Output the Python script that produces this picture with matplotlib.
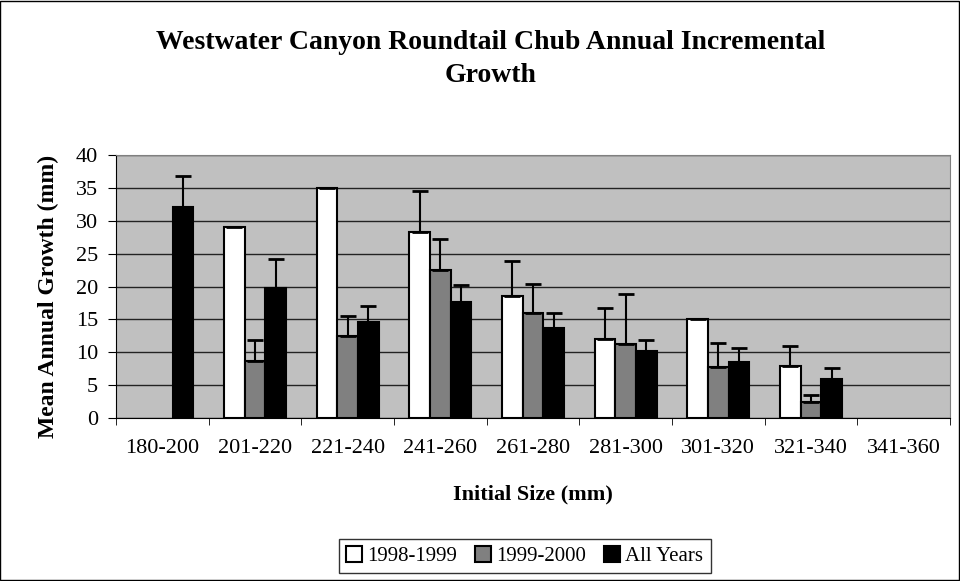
import matplotlib
matplotlib.use("Agg")
import matplotlib.pyplot as plt
import numpy as np

categories = ["180-200", "201-220", "221-240", "241-260", "261-280",
              "281-300", "301-320", "321-340", "341-360"]
series_names = ["1998-1999", "1999-2000", "All Years"]
v_9899 = [np.nan, 29.0, 35.0, 28.3, 18.6, 12.0, 15.0, 7.9, np.nan]
e_9899 = [np.nan, np.nan, np.nan, 6.2, 5.3, 4.7, np.nan, 3.0, np.nan]
v_9900 = [np.nan, 8.6, 12.4, 22.5, 16.0, 11.3, 7.8, 2.4, np.nan]
e_9900 = [np.nan, 3.3, 3.1, 4.7, 4.4, 7.5, 3.6, 1.1, np.nan]
v_all = [32.1, 19.7, 14.6, 17.7, 13.7, 10.2, 8.5, 5.9, np.nan]
e_all = [4.7, 4.5, 2.4, 2.5, 2.2, 1.6, 2.1, 1.7, np.nan]
colors = ["#FFFFFF", "#808080", "#000000"]

plt.rcParams['font.family'] = ['Liberation Serif', 'DejaVu Serif']

fig = plt.figure(figsize=(9.6, 5.81), dpi=100)
fig.patches.append(plt.Rectangle((0.0005, 0.001), 0.998, 0.997, transform=fig.transFigure,
                                 fill=False, edgecolor='black', linewidth=1))
W, H = 960, 581
left, right, top, bottom = 116, 950, 155, 418
ax = fig.add_axes([left / W, 1 - bottom / H, (right - left) / W, (bottom - top) / H])
ax.set_facecolor("#C0C0C0")

n = len(categories)
x = np.arange(n)
bw = 0.222
vals = [v_9899, v_9900, v_all]
errs = [e_9899, e_9900, e_all]
for i, (v, e, c, name) in enumerate(zip(vals, errs, colors, series_names)):
    pos = x + (i - 1) * bw
    ax.bar(pos, v, width=bw, color=c, edgecolor='black', linewidth=1.5, label=name, zorder=3)
    ax.errorbar(pos, v, yerr=[np.zeros(n), e], fmt='none', ecolor='black',
                elinewidth=1.5, capsize=5.5, capthick=2, zorder=4)

ax.set_xlim(-0.5, n - 0.5)
ax.set_ylim(0, 40)
ax.set_yticks(np.arange(0, 41, 5))
ax.yaxis.grid(True, color='#222222', linewidth=1)
ax.set_axisbelow(True)
ax.set_xticks(x)
ax.set_xticklabels(categories, fontsize=16)
ax.set_xticks(np.arange(-0.5, n, 1), minor=True)
ax.tick_params(axis='x', which='major', length=0, pad=15)
ax.tick_params(axis='x', which='minor', length=5, direction='out', color='black')
ax.tick_params(axis='y', labelsize=16, length=6, direction='out', pad=7)
for s in ['top', 'right']:
    ax.spines[s].set_color('#808080')
ax.spines['left'].set_color('black')
ax.spines['bottom'].set_color('black')

fig.text(533 / W, 1 - 494 / H, "Initial Size (mm)", ha='center', va='center',
         fontsize=16, fontweight='bold')
fig.text(48 / W, 1 - 296 / H, "Mean Annual Growth (mm)", ha='center', va='center',
         rotation=90, fontsize=17, fontweight='bold')

fig.text(491 / W, 1 - 59 / H, "Westwater Canyon Roundtail Chub Annual Incremental\nGrowth",
         ha='center', va='center', fontsize=20, fontweight='bold', linespacing=1.45)

leg = fig.legend(loc='center left', bbox_to_anchor=(339 / W, 1 - 556 / H), ncol=3,
                 fontsize=15, frameon=True, fancybox=False, edgecolor='black',
                 handlelength=0.77, handleheight=0.77, handletextpad=0.24, columnspacing=0.87,
                 borderpad=0.35, borderaxespad=0)
leg.get_frame().set_linewidth(1)

fig.savefig("out.png", dpi=100)
